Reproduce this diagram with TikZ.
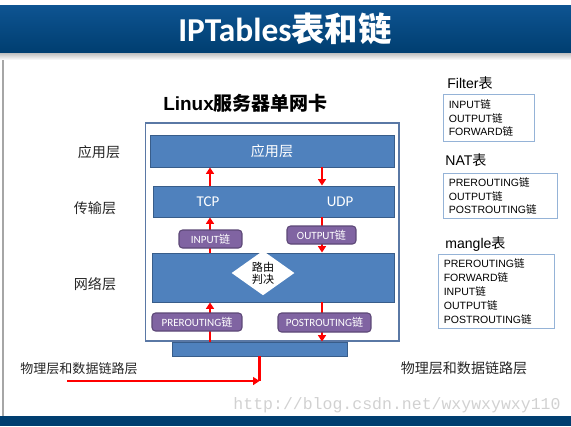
\documentclass[tikz,border=0pt]{standalone}
\usepackage{fontspec}
\setmainfont{Liberation Sans}
\newfontfamily\zh{Noto Sans CJK SC}
\newfontfamily\calibri{Carlito}
\newfontfamily\wmfont{Liberation Mono}
\usepackage{tikz}
\usetikzlibrary{arrows.meta,shapes.geometric}
\definecolor{barblue}{RGB}{0,62,112}
\definecolor{bartop}{RGB}{14,84,146}
\definecolor{layerblue}{RGB}{79,129,189}
\definecolor{layeredge}{RGB}{56,93,138}
\definecolor{chainpurple}{RGB}{128,100,162}
\definecolor{chainedge}{RGB}{92,71,118}
\definecolor{frameedge}{RGB}{90,120,165}
\definecolor{tbledge}{RGB}{149,179,215}
\definecolor{arrowred}{RGB}{255,0,0}
\newcommand{\cn}[1]{{\zh #1}}

\begin{document}
\begin{tikzpicture}[x=0.02cm,y=-0.02cm,
  >={Triangle[length=1.3mm,width=1.6mm]},
  layer/.style={draw=layeredge,fill=layerblue,line width=0.5pt,inner sep=0pt},
  chain/.style={draw=chainedge,fill=chainpurple,rounded corners=2pt,line width=0.6pt,inner sep=0pt,
                text=white,font=\calibri\fontsize{6.3}{7}\selectfont},
  flow/.style={->,draw=arrowred,line width=1.3pt},
  lbl/.style={text=black!85,font=\zh\fontsize{8}{9}\selectfont},
  hdr/.style={anchor=west,inner sep=0pt,font=\fontsize{8}{9}\selectfont},
  tbl/.style={draw=tbledge,line width=0.6pt,anchor=north west,align=left,inner xsep=3pt,inner ysep=0pt,
              font=\fontsize{6}{7.9}\selectfont}
]
\useasboundingbox (0,0) rectangle (571,426);
% slide frame
\fill[top color=bartop,bottom color=barblue] (0,5) rectangle (571,53);
\shade[top color=black!25,bottom color=white] (0,53) rectangle (571,60);
\fill[barblue] (0,416) rectangle (571,426);
\draw[black!35,line width=0.6pt] (3,60) -- (3,416);
\node[text=white,font=\bfseries\fontsize{19}{20}\selectfont] (title) at (285,29) {{\calibri IPTables}\cn{表和链}};

% host with its layers
\node[font=\bfseries\fontsize{10.8}{12}\selectfont] (host) at (245.5,103) {Linux\cn{服务器单网卡}};
\node[draw=frameedge,fill=white,line width=0.6pt,minimum width=5.08cm,minimum height=4.36cm,inner sep=0pt] (frame) at (272,232) {};
\node[layer,minimum width=4.88cm,minimum height=0.64cm,text=white,font=\zh\fontsize{8}{9}\selectfont] (app) at (272,151) {应用层};
\node[layer,minimum width=4.82cm,minimum height=0.62cm] (trans) at (273.5,201.5) {};
\node[text=white,font=\calibri\fontsize{8.5}{9}\selectfont] (tcp) at (208,201.5) {TCP};
\node[text=white,font=\calibri\fontsize{8.5}{9}\selectfont] (udp) at (340,201.5) {UDP};
\node[layer,minimum width=4.84cm,minimum height=0.98cm] (net) at (273,277.5) {};
\node[diamond,fill=white,inner sep=0pt,minimum width=1.26cm,minimum height=0.76cm,align=center,
      font=\zh\fontsize{6.3}{7}\selectfont] (route) at (263,273) {路由\\判决};
\node[layer,minimum width=3.5cm,minimum height=0.28cm] (nic) at (259.5,349) {};

% packet paths
\coordinate (inL) at (210,0);
\coordinate (outR) at (322,0);
\draw[flow] (trans.north -| inL) -- (app.south -| inL);
\draw[flow] (net.north -| inL) -- (trans.south -| inL);
\draw[flow] (nic.north -| inL) -- (net.south -| inL);
\draw[flow] (app.south -| outR) -- (trans.north -| outR);
\draw[flow] (trans.south -| outR) -- (net.north -| outR);
\draw[flow] (net.south -| outR) -- (nic.north -| outR);

\node[chain,minimum width=1.26cm,minimum height=0.36cm] (input) at (210.5,239) {INPUT\cn{链}};
\node[chain,minimum width=1.38cm,minimum height=0.36cm] (output) at (321.5,235) {OUTPUT\cn{链}};
\node[chain,minimum width=1.8cm,minimum height=0.36cm] (pre) at (197,322) {PREROUTING\cn{链}};
\node[chain,minimum width=1.86cm,minimum height=0.38cm] (post) at (324.5,322.5) {POSTROUTING\cn{链}};

\node[lbl] (lapp) at (99,152) {应用层};
\node[lbl] (ltrans) at (95,208) {传输层};
\node[lbl] (lnet) at (95,284) {网络层};
\node[lbl,font=\zh\fontsize{7.4}{8}\selectfont] (physL) at (79,369) {物理层和数据链路层};
\node[lbl] (physR) at (464,368) {物理层和数据链路层};

\coordinate (wire) at (67,381);
\draw[flow] (wire) -- (wire -| nic.south);
\draw[arrowred,line width=1.3pt] (nic.south) -- (wire -| nic.south);

% tables
\node[hdr] (filterh) at (447,83) {Filter\cn{表}};
\node[tbl,text width=1.6cm,minimum height=0.94cm] (filter) at (443,94) {INPUT\cn{链}\\OUTPUT\cn{链}\\FORWARD\cn{链}};
\node[hdr] (nath) at (445,160) {NAT\cn{表}};
\node[tbl,text width=2.07cm,minimum height=0.9cm] (nat) at (443,173) {PREROUTING\cn{链}\\OUTPUT\cn{链}\\POSTROUTING\cn{链}};
\node[hdr] (mangleh) at (445,244) {mangle\cn{表}};
\node[tbl,text width=2.11cm,minimum height=1.48cm] (mangle) at (438,254) {PREROUTING\cn{链}\\FORWARD\cn{链}\\INPUT\cn{链}\\OUTPUT\cn{链}\\POSTROUTING\cn{链}};

\node[text=black!18,font=\wmfont\fontsize{9.4}{10}\selectfont] (mark) at (397,405) {http://blog.csdn.net/wxywxywxy110};
\end{tikzpicture}
\end{document}
